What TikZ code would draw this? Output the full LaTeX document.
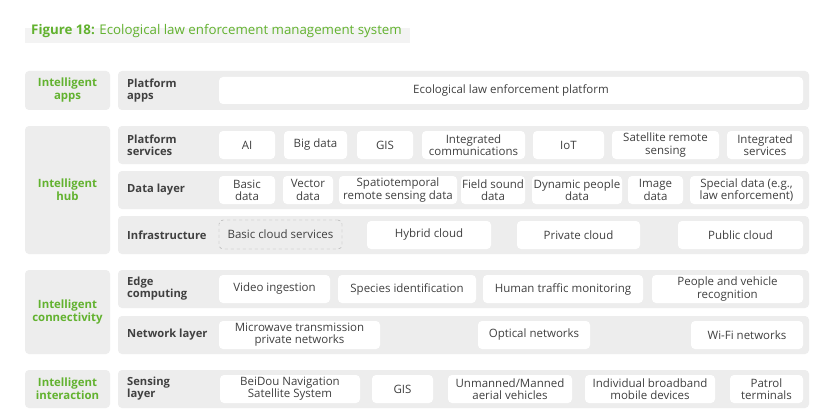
\documentclass[tikz,border=0pt]{standalone}
\usepackage{fontspec}
\setmainfont{Open Sans}
\definecolor{rowgray}{HTML}{EDEDED}
\definecolor{txt}{HTML}{404040}
\definecolor{grn}{HTML}{62B22F}
\definecolor{band}{HTML}{F3F3F3}
\newcommand\bx[7]{% style, name, x1, y1, x2, y2, text
  \node[#1, minimum width={(#5-#3)*1pt}, minimum height={(#6-#4)*1pt}] (#2)
    at ({(#3+#5)/2*1pt},{-(#4+#6)/2*1pt}) {#7};}
\tikzset{
  rowbox/.style={fill=rowgray, rounded corners=4pt, inner sep=0pt},
  grpbox/.style={fill=rowgray, rounded corners=4pt, inner sep=0pt, align=center,
    text=grn, font=\bfseries\fontsize{11.4}{13}\selectfont},
  ibx/.style={fill=white, rounded corners=4pt, inner sep=0pt, align=center,
    text=txt, font=\fontsize{11.5}{12.2}\selectfont},
  dbx/.style={draw=gray!70, dashed, rounded corners=4pt, inner sep=0pt, align=center,
    text=txt, font=\fontsize{11.5}{12.2}\selectfont},
  rlbl/.style={anchor=west, align=left, inner sep=0pt, text=txt,
    font=\bfseries\fontsize{11.2}{12}\selectfont},
}
\begin{document}
\begin{tikzpicture}
\useasboundingbox (0,0) rectangle (820pt,-420pt);
\fill[white] (0,0) rectangle (820pt,-420pt);
% title
\fill[band] (25pt,-28pt) rectangle (410pt,-43pt);
\node[anchor=west, inner sep=0pt, text=grn, font=\fontsize{13.3}{15}\selectfont]
  (title) at (31pt,-31pt) {\textbf{Figure 18:} Ecological law enforcement management system};
% left groups
\bx{grpbox}{g1}{25}{71}{110}{110}{Intelligent\\apps}
\bx{grpbox}{g2}{25}{126}{110}{254}{Intelligent\\hub}
\bx{grpbox}{g3}{25}{270}{110}{354}{Intelligent\\connectivity}
\bx{grpbox}{g4}{25}{370}{110}{408}{Intelligent\\interaction}
% rows
\bx{rowbox}{r1}{118}{71}{809}{110}{}
\bx{rowbox}{r2}{118}{126}{809}{164}{}
\bx{rowbox}{r3}{118}{171}{809}{209}{}
\bx{rowbox}{r4}{118}{216}{809}{254}{}
\bx{rowbox}{r5}{118}{270}{809}{308}{}
\bx{rowbox}{r6}{118}{316}{809}{354}{}
\bx{rowbox}{r7}{118}{370}{809}{408}{}
% row labels
\node[rlbl] (l1) at (127pt,-90.5pt) {Platform\\apps};
\node[rlbl] (l2) at (127pt,-145pt) {Platform\\services};
\node[rlbl] (l3) at (127pt,-190pt) {Data layer};
\node[rlbl] (l4) at (127pt,-235pt) {Infrastructure};
\node[rlbl] (l5) at (127pt,-289pt) {Edge\\computing};
\node[rlbl] (l6) at (127pt,-335pt) {Network layer};
\node[rlbl] (l7) at (127pt,-389pt) {Sensing\\layer};
% row 1
\bx{ibx}{a1}{219}{77}{803}{104}{Ecological law enforcement platform}
% row 2
\bx{ibx}{b1}{219}{131}{275}{159}{AI}
\bx{ibx}{b2}{284}{131}{347}{159}{Big data}
\bx{ibx}{b3}{357}{131}{413}{159}{GIS}
\bx{ibx}{b4}{422}{131}{525}{159}{Integrated\\communications}
\bx{ibx}{b5}{533}{131}{604}{159}{IoT}
\bx{ibx}{b6}{612}{131}{719}{159}{Satellite remote\\sensing}
\bx{ibx}{b7}{727}{131}{803}{159}{Integrated\\services}
% row 3
\bx{ibx}{c1}{219}{176}{275}{204}{Basic\\data}
\bx{ibx}{c2}{283}{176}{333}{204}{Vector\\data}
\bx{ibx}{c3}{339}{176}{457}{204}{Spatiotemporal\\remote sensing data}
\bx{ibx}{c4}{461}{176}{525}{204}{Field sound\\data}
\bx{ibx}{c5}{532}{176}{622}{204}{Dynamic people\\data}
\bx{ibx}{c6}{628}{176}{683}{204}{Image\\data}
\bx{ibx}{c7}{690}{176}{803}{204}{Special data (e.g.,\\law enforcement)}
% row 4
\bx{dbx}{d1}{219}{220}{342}{249}{Basic cloud services}
\bx{ibx}{d2}{367}{221}{491}{249}{Hybrid cloud}
\bx{ibx}{d3}{517}{221}{640}{249}{Private cloud}
\bx{ibx}{d4}{678}{221}{803}{249}{Public cloud}
% row 5
\bx{ibx}{e1}{219}{275}{330}{303}{Video ingestion}
\bx{ibx}{e2}{338}{275}{476}{303}{Species identification}
\bx{ibx}{e3}{483}{275}{643}{303}{Human traffic monitoring}
\bx{ibx}{e4}{652}{275}{803}{303}{People and vehicle\\recognition}
% row 6
\bx{ibx}{f1}{219}{321}{380}{349}{Microwave transmission\\private networks}
\bx{ibx}{f2}{478}{321}{590}{349}{Optical networks}
\bx{ibx}{f3}{691}{321}{803}{349}{Wi-Fi networks}
% row 7
\bx{ibx}{h1}{220}{375}{360}{403}{BeiDou Navigation\\Satellite System}
\bx{ibx}{h2}{372}{375}{433}{403}{GIS}
\bx{ibx}{h3}{448}{375}{572}{403}{Unmanned/Manned\\aerial vehicles}
\bx{ibx}{h4}{585}{375}{715}{403}{Individual broadband\\mobile devices}
\bx{ibx}{h5}{730}{375}{803}{403}{Patrol\\terminals}
\end{tikzpicture}
\end{document}
